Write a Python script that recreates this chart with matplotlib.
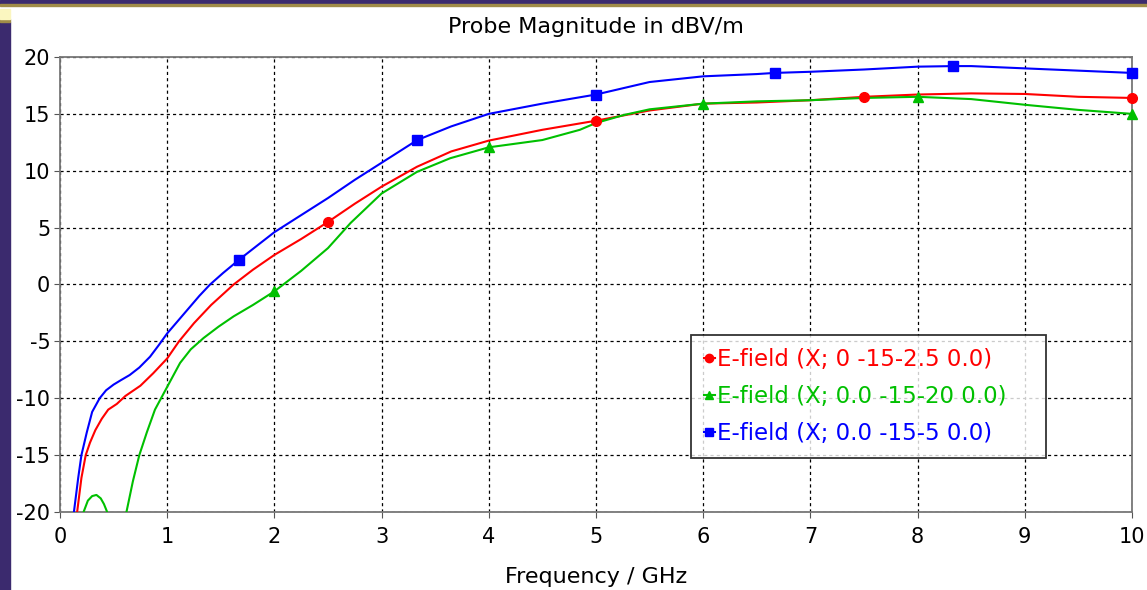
import matplotlib
matplotlib.use("Agg")
import matplotlib.pyplot as plt
from matplotlib.patches import Rectangle

# E-field (X; 0 -15-2.5 0.0)  red
red_f = [0.10, 0.16, 0.20, 0.24, 0.28, 0.33, 0.39, 0.45, 0.53, 0.61, 0.75, 0.87, 1.00, 1.11, 1.25,
         1.41, 1.62, 1.80, 2.00, 2.25, 2.50, 2.75, 3.00, 3.33, 3.65, 4.00, 4.50, 5.00, 5.50,
         6.00, 6.50, 7.00, 7.50, 8.00, 8.50, 9.00, 9.50, 10.00]
red_v = [-25.0, -20.0, -17.0, -15.0, -13.9, -12.8, -11.8, -11.0, -10.5, -9.8, -8.9, -7.8, -6.5, -5.0, -3.4,
         -1.8, 0.0, 1.3, 2.6, 4.0, 5.5, 7.1, 8.6, 10.35, 11.7, 12.65, 13.6, 14.4, 15.3,
         15.9, 16.0, 16.2, 16.5, 16.7, 16.8, 16.75, 16.5, 16.4]
red_mf = [2.5, 5.0, 7.5, 10.0]
red_mv = [5.5, 14.4, 16.5, 16.4]

# E-field (X; 0.0 -15-20 0.0)  green
green_f = [0.15, 0.22, 0.26, 0.30, 0.34, 0.38, 0.41, 0.44, 0.50, 0.57, 0.62, 0.68, 0.74, 0.81, 0.886,
           1.00, 1.12, 1.22, 1.34, 1.48, 1.62, 1.80, 2.00, 2.25, 2.50, 2.71, 3.00, 3.33, 3.64, 4.00,
           4.50, 4.85, 5.00, 5.26, 5.50, 6.00, 6.50, 7.00, 7.50, 8.00, 8.50, 9.00, 9.50, 10.00]
green_v = [-24.0, -20.0, -19.0, -18.6, -18.5, -18.8, -19.3, -20.0, -23.0, -23.0, -20.0, -17.3, -15.0, -13.0, -11.0,
           -9.0, -6.9, -5.7, -4.7, -3.7, -2.8, -1.8, -0.6, 1.2, 3.2, 5.4, 8.0, 9.9, 11.1, 12.06,
           12.7, 13.6, 14.2, 14.9, 15.4, 15.9, 16.1, 16.2, 16.4, 16.5, 16.3, 15.8, 15.35, 15.0]
green_mf = [2.0, 4.0, 6.0, 8.0, 10.0]
green_mv = [-0.6, 12.06, 15.9, 16.5, 15.0]

# E-field (X; 0.0 -15-5 0.0)  blue
blue_f = [0.08, 0.13, 0.17, 0.20, 0.25, 0.30, 0.37, 0.43, 0.50, 0.57, 0.65, 0.74, 0.84, 0.92, 1.00,
          1.10, 1.20, 1.30, 1.40, 1.52, 1.667, 1.85, 2.00, 2.25, 2.50, 2.75, 3.00, 3.333, 3.65, 4.00, 4.50,
          5.00, 5.50, 6.00, 6.50, 6.667, 7.00, 7.50, 8.00, 8.333, 8.50, 9.00, 9.50, 10.00]
blue_v = [-25.0, -20.0, -17.0, -15.0, -13.0, -11.2, -10.0, -9.3, -8.8, -8.4, -7.96, -7.3, -6.35, -5.35, -4.3,
          -3.2, -2.1, -1.0, 0.0, 1.0, 2.15, 3.5, 4.6, 6.1, 7.6, 9.2, 10.7, 12.7, 13.9, 15.0, 15.9,
          16.7, 17.8, 18.3, 18.5, 18.6, 18.7, 18.9, 19.15, 19.2, 19.2, 19.0, 18.8, 18.6]
blue_mf = [1.667, 3.333, 5.0, 6.667, 8.333, 10.0]
blue_mv = [2.15, 12.7, 16.7, 18.6, 19.2, 18.6]

labels = ["E-field (X; 0 -15-2.5 0.0)", "E-field (X; 0.0 -15-20 0.0)", "E-field (X; 0.0 -15-5 0.0)"]
colors = ["#ff0000", "#00c000", "#0000ff"]
markers = ["o", "^", "s"]

plt.rcParams["font.family"] = "DejaVu Sans"
plt.rcParams["axes.unicode_minus"] = False
fig = plt.figure(figsize=(11.47, 5.90), dpi=100)

# window frame bits
fig.patches.append(Rectangle((0, 0.993), 1, 0.007, transform=fig.transFigure, color="#3b2a6e", zorder=0))
fig.patches.append(Rectangle((0, 0.989), 1, 0.004, transform=fig.transFigure, color="#a08c48", zorder=0))
fig.patches.append(Rectangle((0, 0), 0.0087, 0.962, transform=fig.transFigure, color="#3b2a6e", zorder=0))
fig.patches.append(Rectangle((0, 0.962), 0.0087, 0.006, transform=fig.transFigure, color="#a08c48", zorder=0))
fig.patches.append(Rectangle((0, 0.968), 0.0087, 0.016, transform=fig.transFigure, color="#fbf6c0", zorder=0))

ax = fig.add_axes([0.0523, 0.1322, 0.9346, 0.7712])

series = [(red_f, red_v, red_mf, red_mv), (green_f, green_v, green_mf, green_mv),
          (blue_f, blue_v, blue_mf, blue_mv)]
handles = []
for (f, v, mf, mv), lab, c, m in zip(series, labels, colors, markers):
    ax.plot(f, v, color=c, lw=1.5, zorder=3)
    ax.plot(mf, mv, linestyle="none", marker=m, color=c, ms=7, zorder=4, clip_on=False)
    h, = ax.plot([], [], color=c, lw=1.5, marker=m, ms=6)
    handles.append(h)

ax.set_xlim(0, 10)
ax.set_ylim(-20, 20)
ax.set_xticks(range(0, 11))
ax.set_yticks(range(-20, 21, 5))
ax.grid(True, color="black", linestyle=(0, (2.5, 2.5)), linewidth=0.9)
ax.tick_params(labelsize=15, length=4, color="#555555")
ax.tick_params(axis="x", pad=7)
ax.tick_params(axis="y", pad=3)
for s in ax.spines.values():
    s.set_color("#777777")
    s.set_linewidth(1.3)

ax.set_title("Probe Magnitude in dBV/m", fontsize=16, pad=17)
ax.set_xlabel("Frequency / GHz", fontsize=16, labelpad=14)

# legend box spans x 691..1046 px in the reference, so expand it to that width
leg = ax.legend(handles, labels, loc="upper left",
                bbox_to_anchor=(0.5886, 0.111, 0.331, 0.278), mode="expand",
                fontsize=16.5, frameon=True, fancybox=False, handlelength=0.5,
                handletextpad=0.1, borderpad=0.55, labelspacing=0.63, borderaxespad=0)
leg.get_frame().set_edgecolor("black")
leg.get_frame().set_linewidth(1.3)
for t, c in zip(leg.get_texts(), colors):
    t.set_color(c)

fig.savefig("out.png", dpi=100)
